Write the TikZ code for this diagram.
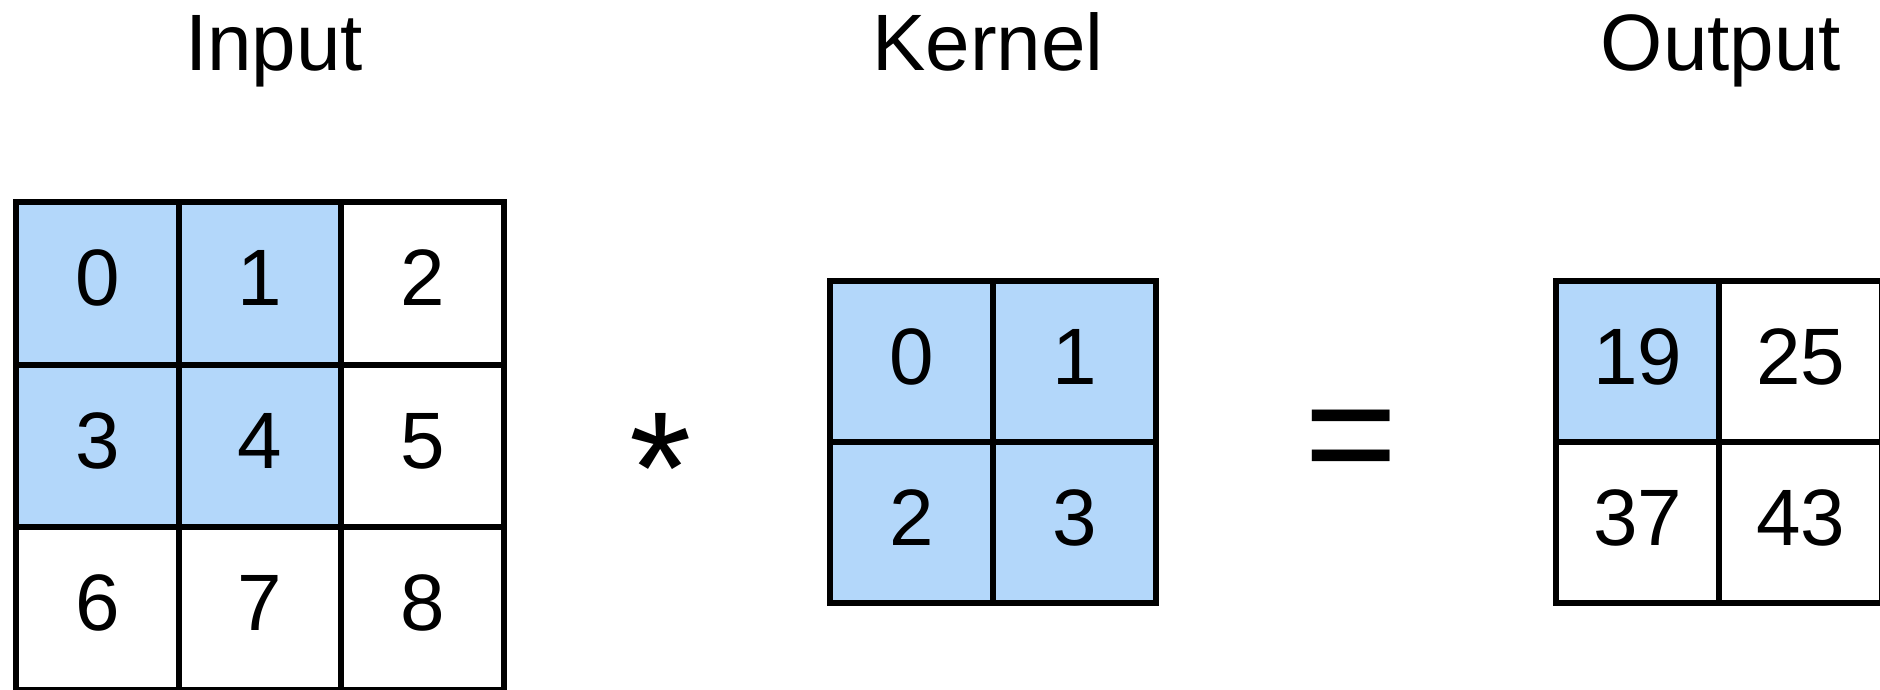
\documentclass[tikz,border=0pt]{standalone}
\usepackage{fontspec}
\setmainfont{Liberation Sans}
\definecolor{cellblue}{RGB}{179,215,250}
\begin{document}
\begin{tikzpicture}[x=1pt,y=-1pt,
  cellbase/.style={draw=black, line width=6pt, inner sep=0pt, outer sep=0pt,
    font=\fontsize{80}{96}\selectfont, text height=57pt, text depth=12pt},
  incell/.style={cellbase, minimum width=162.5pt, minimum height=162.5pt},
  kcell/.style={cellbase, minimum width=163pt, minimum height=161pt},
  hi/.style={fill=cellblue},
  lo/.style={fill=white},
  title/.style={anchor=base, inner sep=0pt, font=\fontsize{80}{96}\selectfont},
  op/.style={anchor=north, inner sep=0pt, font=\fontsize{160}{190}\selectfont}]
\useasboundingbox (0,0) rectangle (1880,689);
\fill[white] (0,0) rectangle (1880,689);
% titles
\node[title] (tin) at (274,70) {Input};
\node[title] (tk) at (988,70) {Kernel};
\node[title] (tout) at (1721,70) {Output};
% input grid
\node[incell,hi] (i0) at (97.25,283.25) {0};
\node[incell,hi] (i1) at (259.75,283.25) {1};
\node[incell,lo] (i2) at (422.25,283.25) {2};
\node[incell,hi] (i3) at (97.25,445.75) {3};
\node[incell,hi] (i4) at (259.75,445.75) {4};
\node[incell,lo] (i5) at (422.25,445.75) {5};
\node[incell,lo] (i6) at (97.25,608.25) {6};
\node[incell,lo] (i7) at (259.75,608.25) {7};
\node[incell,lo] (i8) at (422.25,608.25) {8};
% operator *
\node[op] (star) at (661,413) {*};
% kernel grid
\node[kcell,hi] (k0) at (911.5,361.5) {0};
\node[kcell,hi] (k1) at (1074.5,361.5) {1};
\node[kcell,hi] (k2) at (911.5,522.5) {2};
\node[kcell,hi] (k3) at (1074.5,522.5) {3};
% operator =
\node[op] (eq) at (1351,410) {=};
% output grid
\node[kcell,hi] (o0) at (1637.5,361.5) {19};
\node[kcell,lo] (o1) at (1800.5,361.5) {25};
\node[kcell,lo] (o2) at (1637.5,522.5) {37};
\node[kcell,lo] (o3) at (1800.5,522.5) {43};
\end{tikzpicture}
\end{document}
